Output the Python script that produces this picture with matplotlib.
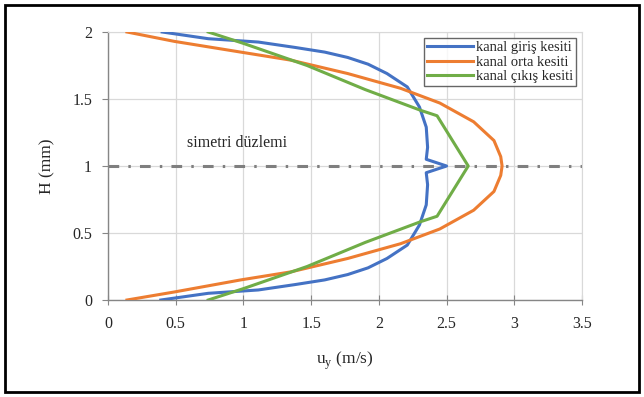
import matplotlib
matplotlib.use('Agg')
import matplotlib.pyplot as plt
from matplotlib.patches import Rectangle

plt.rcParams['font.family'] = ['Liberation Serif', 'DejaVu Serif']

# velocity profiles across the channel height
h_giris = [0, 0.05, 0.075, 0.115, 0.15, 0.19, 0.24, 0.31, 0.41, 0.56, 0.71, 0.86, 0.95, 1.0,
           1.05, 1.14, 1.29, 1.44, 1.59, 1.69, 1.76, 1.81, 1.85, 1.885, 1.925, 1.95, 2.0]
u_giris = [0.39, 0.74, 1.11, 1.38, 1.60, 1.77, 1.92, 2.06, 2.21, 2.30, 2.35, 2.36, 2.35, 2.50,
           2.35, 2.36, 2.35, 2.30, 2.21, 2.06, 1.92, 1.77, 1.60, 1.38, 1.11, 0.74, 0.40]

h_orta = [0, 0.06, 0.15, 0.21, 0.31, 0.42, 0.53, 0.67, 0.81, 0.93, 1.0,
          1.07, 1.19, 1.33, 1.47, 1.58, 1.69, 1.79, 1.85, 1.93, 2.0]
u_orta = [0.14, 0.49, 0.98, 1.35, 1.77, 2.16, 2.45, 2.70, 2.85, 2.90, 2.91,
          2.90, 2.85, 2.70, 2.45, 2.16, 1.77, 1.35, 0.98, 0.49, 0.14]

h_cikis = [0, 0.085, 0.25, 0.43, 0.585, 0.625, 1.0,
           1.375, 1.415, 1.57, 1.75, 1.915, 2.0]
u_cikis = [0.74, 1.00, 1.47, 1.90, 2.31, 2.43, 2.66,
           2.43, 2.31, 1.90, 1.47, 1.00, 0.74]

x_ticks = [0, 0.5, 1, 1.5, 2, 2.5, 3, 3.5]
x_labels = ['0', '0.5', '1', '1.5', '2', '2.5', '3', '3.5']
y_ticks = [0, 0.5, 1, 1.5, 2]
y_labels = ['0', '0.5', '1', '1.5', '2']

fig = plt.figure(figsize=(6.44, 3.97), dpi=100)
ax = fig.add_axes([0.1677, 0.2443, 0.7360, 0.6751])

ax.axhline(1.0, color='#7f7f7f', lw=2.2, linestyle=(0, (3.5, 3.0, 0.8, 3.0)), zorder=1)

ax.plot(u_giris, h_giris, color='#4472c4', lw=2.2, label='kanal giriş kesiti', zorder=3)
ax.plot(u_orta, h_orta, color='#ed7d31', lw=2.2, label='kanal orta kesiti', zorder=3)
ax.plot(u_cikis, h_cikis, color='#70ad47', lw=2.2, label='kanal çıkış kesiti', zorder=3)

ax.text(0.58, 1.17, 'simetri düzlemi', fontsize=11.5, ha='left', va='center', color='#262626')

ax.set_xlim(0, 3.5)
ax.set_ylim(0, 2)
ax.set_xticks(x_ticks)
ax.set_xticklabels(x_labels)
ax.set_yticks(y_ticks)
ax.set_yticklabels(y_labels)
ax.tick_params(labelsize=11.5, color='#868686', labelcolor='#262626')
ax.tick_params(axis='y', length=4.5, pad=7)
ax.tick_params(axis='x', direction='inout', length=7, pad=8)
ax.grid(True, color='#d9d9d9', lw=0.9)
ax.set_axisbelow(True)
for s in ['top', 'right']:
    ax.spines[s].set_color('#d9d9d9')
for s in ['left', 'bottom']:
    ax.spines[s].set_color('#868686')
    ax.spines[s].set_linewidth(1.0)

ax.set_xlabel('u$_\\mathregular{y}$ (m/s)', fontsize=12.5, labelpad=13, color='#262626')
ax.set_ylabel('H (mm)', fontsize=12.5, labelpad=12, color='#262626')

leg = ax.legend(loc='upper right', fontsize=10.5, frameon=True, fancybox=False,
                borderpad=0.2, labelspacing=0.1, handlelength=3.2, handletextpad=0.2,
                borderaxespad=0.4)
leg.get_frame().set_edgecolor('#404040')
leg.get_frame().set_linewidth(1.0)
for t in leg.get_texts():
    t.set_color('#262626')

fig.patches.append(Rectangle((0.007, 0.013), 0.986, 0.975, transform=fig.transFigure,
                             fill=False, edgecolor='black', lw=2))

fig.savefig('out.png', dpi=100)
